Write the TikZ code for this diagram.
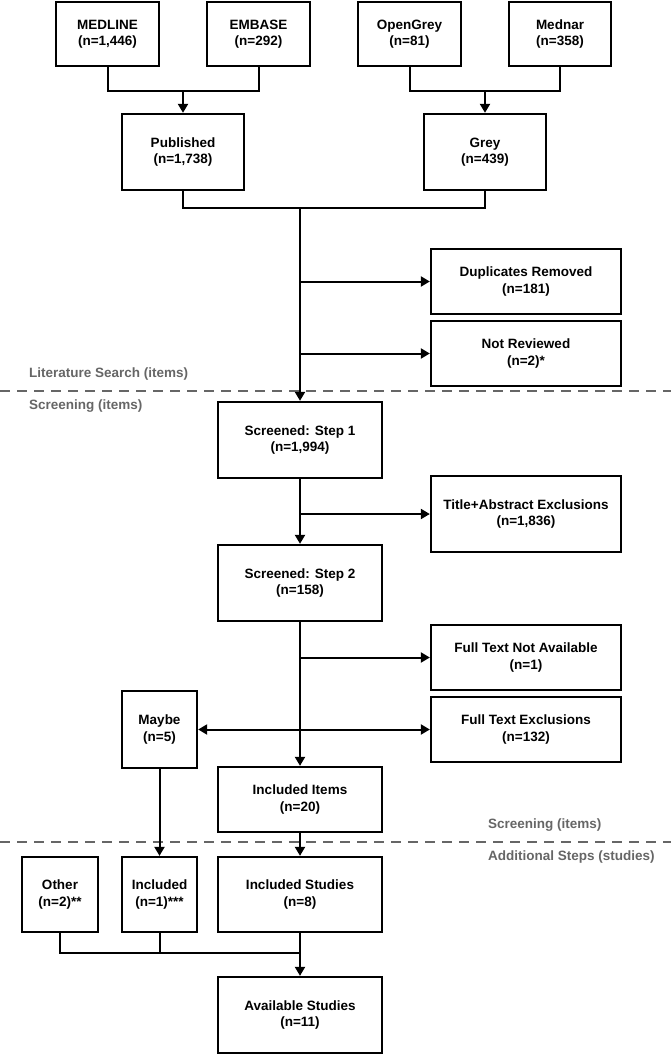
\documentclass[tikz,border=0pt]{standalone}
\usepackage{fontspec}
\setmainfont{Liberation Sans}
\usetikzlibrary{arrows.meta}
\begin{document}
\begin{tikzpicture}[x=1pt,y=-1pt,
  font=\fontsize{13.5}{16.3}\selectfont\bfseries,
  box/.style={draw=black,line width=2.3pt,fill=white,inner sep=0pt,align=center,minimum width=#1},
  box/.default=164pt,
  tall/.style={minimum height=76pt},
  short/.style={minimum height=65pt},
  conn/.style={line width=2pt},
  arr/.style={conn,-{Triangle[length=9pt,width=10pt]}},
  sep/.style={draw=black!60,line width=2pt,dash pattern=on 10pt off 7pt},
  lab/.style={text=black!60,anchor=west,inner sep=0pt}]
\useasboundingbox (0,0) rectangle (671,1054);
% separators (behind)
\coordinate (s1l) at (0,391); \coordinate (s1r) at (671,391);
\coordinate (s2l) at (0,842); \coordinate (s2r) at (671,842);
\draw[sep] (s1l) -- (s1r);
\draw[sep] (s2l) -- (s2r);
% top sources
\node[box=103pt,minimum height=64pt] (med) at (107.5,34) {MEDLINE\\(n=1,446)};
\node[box=103pt,minimum height=64pt] (emb) at (258.5,34) {EMBASE\\(n=292)};
\node[box=103pt,minimum height=64pt] (ogr) at (409.5,34) {OpenGrey\\(n=81)};
\node[box=102pt,minimum height=64pt] (mdn) at (560,34) {Mednar\\(n=358)};
\node[box=122pt,tall] (pub) at (183,152) {Published\\(n=1,738)};
\node[box=122pt,tall] (gry) at (485,152) {Grey\\(n=439)};
\node[box=190pt,short] (dup) at (526,281.5) {Duplicates Removed\\(n=181)};
\node[box=190pt,short] (nrv) at (526,353.5) {Not Reviewed\\(n=2)*};
\node[box,tall] (st1) at (300,440) {Screened: Step 1\\(n=1,994)};
\node[box=190pt,tall] (tae) at (526,514) {Title+Abstract Exclusions\\(n=1,836)};
\node[box,tall] (st2) at (300,583) {Screened: Step 2\\(n=158)};
\node[box=190pt,short] (fna) at (526,657.5) {Full Text Not Available\\(n=1)};
\node[box=190pt,short] (fte) at (526,729.5) {Full Text Exclusions\\(n=132)};
\node[box=75pt,minimum height=77pt] (may) at (159.5,729.5) {Maybe\\(n=5)};
\node[box,short] (inc) at (300,799.5) {Included Items\\(n=20)};
\node[box=76pt,minimum height=75pt] (oth) at (60,894.5) {Other\\(n=2)**};
\node[box=75pt,minimum height=75pt] (in1) at (159.5,894.5) {Included\\(n=1)***};
\node[box,minimum height=75pt] (ins) at (300,894.5) {Included Studies\\(n=8)};
\node[box,tall] (avl) at (300,1015) {Available Studies\\(n=11)};
% junctions
\coordinate (j1) at (183,91);
\coordinate (j2) at (485,91);
\coordinate (j3) at (300,208);
\coordinate (j4) at (300,953);
% connectors
\draw[conn] (med.south) |- (j1) -| (emb.south);
\draw[arr] (j1) -- (pub.north);
\draw[conn] (ogr.south) |- (j2) -| (mdn.south);
\draw[arr] (j2) -- (gry.north);
\draw[conn] (pub.south) |- (j3) -| (gry.south);
\draw[arr] (j3) -- (st1.north);
\draw[arr] (j3 |- dup.west) -- (dup.west);
\draw[arr] (j3 |- nrv.west) -- (nrv.west);
\draw[arr] (st1.south) -- (st2.north);
\draw[arr] (st1.south |- tae.west) -- (tae.west);
\draw[arr] (st2.south) -- (inc.north);
\draw[arr] (st2.south |- fna.west) -- (fna.west);
\draw[arr] (st2.south |- fte.west) -- (fte.west);
\draw[arr] (st2.south |- may.east) -- (may.east);
\draw[arr] (may.south) -- (in1.north);
\draw[arr] (inc.south) -- (ins.north);
\draw[conn] (oth.south) |- (j4);
\draw[conn] (in1.south) -- (in1.south |- j4);
\draw[arr] (ins.south) -- (avl.north);
% section labels
\node[lab] (l1) at (29,374) {Literature Search (items)};
\node[lab] (l2) at (29,406) {Screening (items)};
\node[lab] (l3) at (488,825) {Screening (items)};
\node[lab] (l4) at (488,857) {Additional Steps (studies)};
\end{tikzpicture}
\end{document}
